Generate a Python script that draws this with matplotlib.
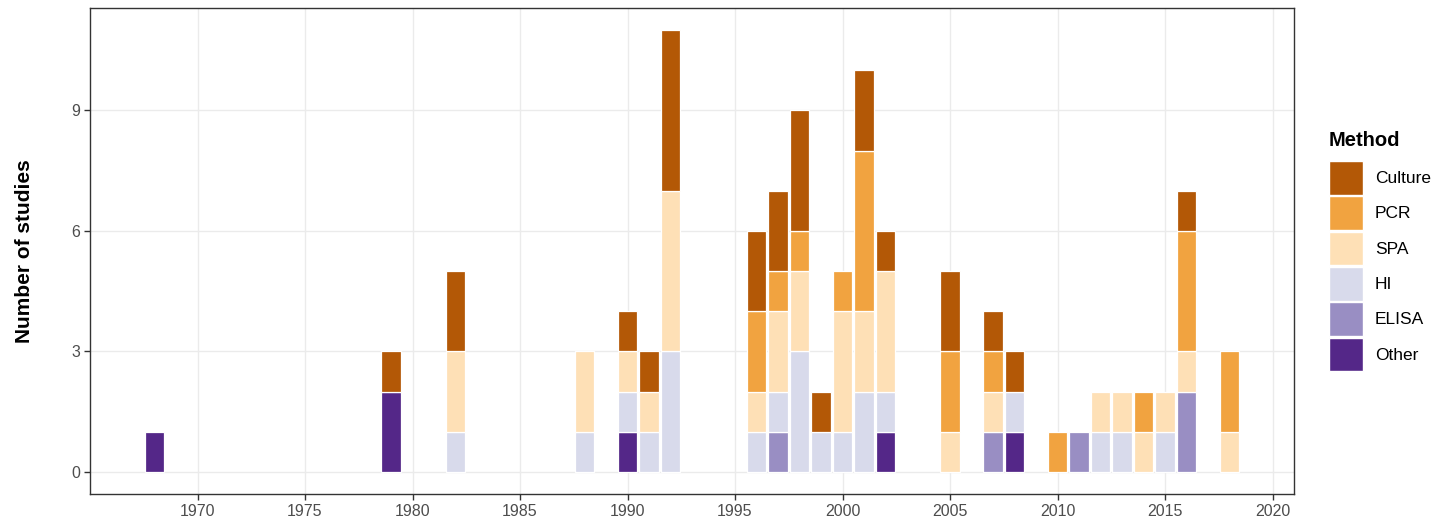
import numpy as np
import matplotlib
matplotlib.use("Agg")
import matplotlib.pyplot as plt
from matplotlib.patches import Patch

plt.rcParams["font.family"] = ["Liberation Sans", "DejaVu Sans"]

# Studies per year, split by diagnostic method
years = [1968, 1979, 1982, 1988, 1990, 1991, 1992, 1996, 1997, 1998, 1999, 2000,
         2001, 2002, 2005, 2007, 2008, 2010, 2011, 2012, 2013, 2014, 2015, 2016, 2018]
other   = [1, 2, 0, 0, 1, 0, 0, 0, 0, 0, 0, 0, 0, 1, 0, 0, 1, 0, 0, 0, 0, 0, 0, 0, 0]
elisa   = [0, 0, 0, 0, 0, 0, 0, 0, 1, 0, 0, 0, 0, 0, 0, 1, 0, 0, 1, 0, 0, 0, 0, 2, 0]
hi      = [0, 0, 1, 1, 1, 1, 3, 1, 1, 3, 1, 1, 2, 1, 0, 0, 1, 0, 0, 1, 1, 0, 1, 0, 0]
spa     = [0, 0, 2, 2, 1, 1, 4, 1, 2, 2, 0, 3, 2, 3, 1, 1, 0, 0, 0, 1, 1, 1, 1, 1, 1]
pcr     = [0, 0, 0, 0, 0, 0, 0, 2, 1, 1, 0, 1, 4, 0, 2, 1, 0, 1, 0, 0, 0, 1, 0, 3, 2]
culture = [0, 1, 2, 0, 1, 1, 4, 2, 2, 3, 1, 0, 2, 1, 2, 1, 1, 0, 0, 0, 0, 0, 0, 1, 0]

methods = ["Other", "ELISA", "HI", "SPA", "PCR", "Culture"]
counts = [other, elisa, hi, spa, pcr, culture]
colors = ["#542788", "#998ec3", "#d8daeb", "#fee0b6", "#f1a340", "#b35806"]

fig = plt.figure(figsize=(14.46, 5.23), dpi=100)
ax = fig.add_axes([90 / 1446, 29 / 523, 1204 / 1446, 486 / 523])

x = np.array(years)
bottom = np.zeros(len(years))
for name, vals, col in zip(methods, counts, colors):
    vals = np.array(vals, dtype=float)
    mask = vals > 0
    ax.bar(x[mask], vals[mask], width=0.9, bottom=bottom[mask], color=col,
           edgecolor="white", linewidth=0.9, label=name, zorder=3)
    bottom += vals

ax.set_xlim(1965.0, 2021.0)
ax.set_ylim(-0.55, 11.55)
ax.set_xticks(range(1970, 2021, 5))
ax.set_yticks([0, 3, 6, 9])
ax.grid(True, color="#ebebeb", linewidth=1.0, zorder=0)
ax.set_axisbelow(True)

for s in ax.spines.values():
    s.set_color("#333333")
    s.set_linewidth(1.0)
ax.tick_params(axis="both", colors="#333333", length=4, width=1.0,
               labelsize=11.5, labelcolor="#4d4d4d", pad=3)

ax.set_ylabel("Number of studies", fontsize=15, fontweight="bold", labelpad=27)

# legend: title as its own text, keys drawn as ~34 px squares below it
fig.text(1329 / 1446, 1 - 141 / 523, "Method", fontsize=14.5, fontweight="bold",
         ha="left", va="center")
handles = [Patch(facecolor=c, edgecolor="white", linewidth=1.0, label=m)
           for m, c in zip(methods[::-1], colors[::-1])]
leg = fig.legend(handles=handles, loc="upper left",
                 bbox_to_anchor=(1329 / 1446, 1 - 161 / 523), frameon=False,
                 fontsize=12.5, handlelength=1.95, handleheight=2.6,
                 labelspacing=0.1, handletextpad=0.7, borderpad=0,
                 borderaxespad=0)

fig.savefig("out.png", dpi=100)
